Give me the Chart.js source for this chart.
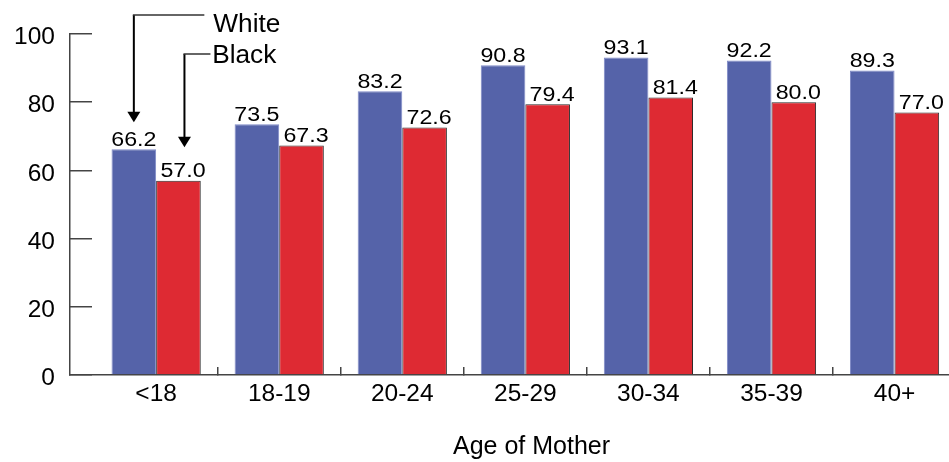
<!DOCTYPE html>
<html>
<head>
<meta charset="utf-8">
<script src="https://cdn.jsdelivr.net/npm/chart.js@4/dist/chart.umd.min.js"></script>
<style>
  html, body { margin: 0; padding: 0; background: #fff; overflow: hidden; }
  #wrap { width: 949px; height: 462px; overflow: hidden; position: relative; }
  canvas { display: block; }
</style>
</head>
<body>
<div id="wrap"><canvas id="chart" width="993" height="462"></canvas></div>
<script>
// Birth rates by age of mother, white vs. black
const ageGroups = ['<18', '18-19', '20-24', '25-29', '30-34', '35-39', '40+'];
const whiteRates = [66.2, 73.5, 83.2, 90.8, 93.1, 92.2, 89.3];
const blackRates = [57.0, 67.3, 72.6, 79.4, 81.4, 80.0, 77.0];
const yTickValues = [0, 20, 40, 60, 80, 100];
const seriesNames = ['White', 'Black'];
const xAxisTitle = 'Age of Mother';

const FONT = '"Liberation Sans", Arial, Helvetica, sans-serif';
Chart.defaults.font.family = FONT;
Chart.defaults.color = '#000';

const toPoints = vals => vals.map((v, i) => ({ x: i, y: v }));

// Numeric labels above each bar
const valueLabels = {
  id: 'valueLabels',
  afterDatasetsDraw(chart) {
    const ctx = chart.ctx;
    chart.data.datasets.forEach((ds, di) => {
      const meta = chart.getDatasetMeta(di);
      meta.data.forEach((bar, i) => {
        const v = ds.data[i].y;
        ctx.save();
        ctx.translate(bar.x + (di === 1 ? 4.5 : 0), bar.y - 3.5);
        ctx.scale(1.16, 1);
        ctx.font = '20px ' + FONT;
        ctx.textAlign = 'center';
        ctx.textBaseline = 'alphabetic';
        ctx.fillStyle = '#000';
        ctx.fillText(v.toFixed(1), 0, 0);
        ctx.restore();
      });
    });
  }
};

// Elbow arrows naming each series at the first group
function drawCallout(ctx, x, tipY, elbowY, lineEndX, text, textX, textY) {
  ctx.save();
  ctx.strokeStyle = '#000';
  ctx.lineWidth = 2;
  ctx.beginPath();
  ctx.moveTo(x, elbowY);
  ctx.lineTo(x, tipY - 8);
  ctx.stroke();
  ctx.strokeStyle = '#333';
  ctx.lineWidth = 1.5;
  ctx.beginPath();
  ctx.moveTo(x - 1, elbowY);
  ctx.lineTo(lineEndX, elbowY);
  ctx.stroke();
  ctx.fillStyle = '#000';
  ctx.beginPath();
  ctx.moveTo(x, tipY);
  ctx.lineTo(x - 6.5, tipY - 10.5);
  ctx.lineTo(x + 6.5, tipY - 10.5);
  ctx.closePath();
  ctx.fill();
  ctx.translate(textX, textY);
  ctx.scale(1.05, 1);
  ctx.font = '25px ' + FONT;
  ctx.textAlign = 'left';
  ctx.textBaseline = 'alphabetic';
  ctx.fillText(text, 0, 0);
  ctx.restore();
}

const seriesCallouts = {
  id: 'seriesCallouts',
  afterDatasetsDraw(chart) {
    const { ctx, chartArea } = chart;
    const w = chart.getDatasetMeta(0).data[0];
    const b = chart.getDatasetMeta(1).data[0];
    drawCallout(ctx, w.x, w.y - 27, chartArea.top - 19, w.x + 70.5,
      seriesNames[0], w.x + 79.5, chartArea.top - 2.5);
    drawCallout(ctx, b.x + 6, b.y - 33.5, chartArea.top + 20, b.x + 32,
      seriesNames[1], b.x + 33.7, chartArea.top + 28.7);
  }
};

const noEdgePadding = s => {
  s.paddingTop = 0; s.paddingBottom = 0;
  s.paddingLeft = 0; s.paddingRight = 0;
};

new Chart(document.getElementById('chart'), {
  type: 'bar',
  data: {
    datasets: [
      {
        label: seriesNames[0],
        data: toPoints(whiteRates),
        backgroundColor: '#5563a9',
        borderColor: '#7e89c6',
        borderWidth: 1,
        borderSkipped: 'bottom',
        categoryPercentage: 0.725,
        barPercentage: 1
      },
      {
        label: seriesNames[1],
        data: toPoints(blackRates),
        backgroundColor: '#de2a33',
        borderColor: '#2a2a2a',
        borderWidth: 1,
        borderSkipped: 'bottom',
        categoryPercentage: 0.725,
        barPercentage: 1
      }
    ]
  },
  options: {
    responsive: false,
    animation: false,
    layout: { padding: { top: 34, right: 0, bottom: 0, left: 0 } },
    plugins: { legend: { display: false }, tooltip: { enabled: false } },
    scales: {
      x: {
        type: 'linear',
        offset: false,
        bounds: 'data',
        min: -0.7,
        max: 6.8,
        afterBuildTicks: s => { s.ticks = ageGroups.map((_, i) => ({ value: i })); },
        afterFit: s => { s.height = 87; noEdgePadding(s); },
        ticks: {
          autoSkip: false,
          maxRotation: 0,
          padding: 13,
          font: { size: 24.5 },
          color: '#000',
          callback: v => ageGroups[v]
        },
        grid: {
          offset: true,
          drawOnChartArea: false,
          drawTicks: true,
          tickLength: -8,
          lineWidth: 1.5,
          color: c => (c.index === 0 ? 'rgba(0,0,0,0)' : '#444')
        },
        border: { color: '#444', width: 1.5 },
        title: {
          display: true,
          text: xAxisTitle,
          font: { size: 25 },
          color: '#000',
          padding: { top: 0, bottom: 0 }
        }
      },
      y: {
        min: 0,
        max: 100,
        afterBuildTicks: s => { s.ticks = yTickValues.map(v => ({ value: v })); },
        afterFit: s => { s.width = 70; noEdgePadding(s); },
        ticks: {
          padding: 37,
          labelOffset: 3.5,
          font: { size: 24.5 },
          color: '#000'
        },
        grid: {
          drawOnChartArea: false,
          drawTicks: true,
          tickLength: -22,
          lineWidth: 1.5,
          color: '#444'
        },
        border: { color: '#444', width: 1.5 }
      }
    }
  },
  plugins: [valueLabels, seriesCallouts]
});
</script>
</body>
</html>
